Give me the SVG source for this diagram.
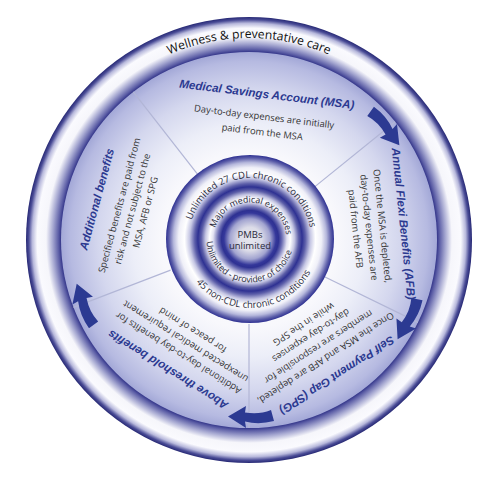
<svg xmlns="http://www.w3.org/2000/svg" width="500" height="480" viewBox="0 0 500 480">
<defs>
<radialGradient id="gRing" gradientUnits="userSpaceOnUse" cx="249" cy="240" r="223">
<stop offset="0.843" stop-color="#34368a"/>
<stop offset="0.855" stop-color="#5c5ea6"/>
<stop offset="0.88" stop-color="#a4a6d0"/>
<stop offset="0.91" stop-color="#f6f6fb"/>
<stop offset="0.95" stop-color="#fafafe"/>
<stop offset="0.972" stop-color="#b8b9dc"/>
<stop offset="0.988" stop-color="#4a4c96"/>
<stop offset="1" stop-color="#262874"/>
</radialGradient>
<radialGradient id="gSec" gradientUnits="userSpaceOnUse" cx="249" cy="240" r="188">
<stop offset="0" stop-color="#ffffff"/>
<stop offset="0.47" stop-color="#f8f8fc"/>
<stop offset="0.62" stop-color="#eceef8"/>
<stop offset="0.8" stop-color="#d4d7ee"/>
<stop offset="0.95" stop-color="#b6bae1"/>
<stop offset="1" stop-color="#a3a8d7"/>
</radialGradient>
<radialGradient id="gCore" gradientUnits="userSpaceOnUse" cx="250" cy="239" r="84">
<stop offset="0" stop-color="#e6e6ee"/>
<stop offset="0.14" stop-color="#dcdce8"/>
<stop offset="0.24" stop-color="#a2a4d0"/>
<stop offset="0.31" stop-color="#34379a"/>
<stop offset="0.34" stop-color="#2e3192"/>
<stop offset="0.38" stop-color="#6a6cb2"/>
<stop offset="0.44" stop-color="#e2e2f2"/>
<stop offset="0.48" stop-color="#ffffff"/>
<stop offset="0.53" stop-color="#c4c5e2"/>
<stop offset="0.58" stop-color="#5d5fa8"/>
<stop offset="0.62" stop-color="#2e3192"/>
<stop offset="0.66" stop-color="#5e60aa"/>
<stop offset="0.72" stop-color="#c6c7e4"/>
<stop offset="0.78" stop-color="#ffffff"/>
<stop offset="0.85" stop-color="#f0f0f8"/>
<stop offset="0.91" stop-color="#b6b8dc"/>
<stop offset="0.965" stop-color="#5a5ca8"/>
<stop offset="1" stop-color="#2e3192"/>
</radialGradient>
<path id="pWell" d="M 47,240 A 202 202 0 0 1 451,240"/>
<path id="pTopOuter" d="M 250,300 A 61 61 0 1 1 250,178 A 61 61 0 1 1 250,300"/>
<path id="pBotOuter" d="M 250,170 A 69 69 0 1 0 250,308 A 69 69 0 1 0 250,170"/>
<path id="pTopMid" d="M 250,275.5 A 36.5 36.5 0 1 1 250,202.5 A 36.5 36.5 0 1 1 250,275.5"/>
<path id="pBotMid" d="M 250,195.5 A 43.5 43.5 0 1 0 250,282.5 A 43.5 43.5 0 1 0 250,195.5"/>
<path id="arrowShape" d="M -25,-4 Q -10,-8 4,-4.5 L 3,-11 L 21,0.5 L 3,11 L 4,4.5 Q -10,2 -22,7 Z"/>
</defs>
<style>
.title{font-family:"Liberation Sans",Arial,sans-serif;font-weight:bold;font-style:italic;font-size:11.6px;fill:#2b3990;text-anchor:middle}
.body{font-family:"Open Sans","Noto Sans",sans-serif;font-size:9.4px;fill:#333333;text-anchor:middle}
.ctr{font-family:"Open Sans","Noto Sans",sans-serif;font-size:9.5px;fill:#2a2a3a;text-anchor:middle}
.mid{font-size:8.8px}
.well{font-family:"Open Sans","Noto Sans",sans-serif;font-size:12.2px;fill:#111111;text-anchor:middle}
.arrow{fill:#2c3a92}
.div{stroke:#b2b6d6;stroke-width:1.2}
</style>
<rect width="500" height="480" fill="#ffffff"/>
<g id="ring">
<circle cx="249" cy="240" r="223" fill="url(#gRing)"/>
<text class="well"><textPath href="#pWell" startOffset="50%">Wellness &amp; preventative care</textPath></text>
</g>
<g id="sectors">
<circle cx="249" cy="240" r="188" fill="url(#gSec)"/>
<line class="div" x1="249" y1="156" x2="249" y2="52" transform="rotate(-38 249 240)"/>
<line class="div" x1="249" y1="156" x2="249" y2="52" transform="rotate(51 249 240)"/>
<line class="div" x1="249" y1="156" x2="249" y2="52" transform="rotate(116 249 240)"/>
<line class="div" x1="249" y1="156" x2="249" y2="52" transform="rotate(180 249 240)"/>
<line class="div" x1="249" y1="156" x2="249" y2="52" transform="rotate(249 249 240)"/>
</g>
<g id="msa" transform="rotate(7 249 240)">
<text class="title" x="249" y="97.2">Medical Savings Account (MSA)</text>
<text class="body" x="249" y="119">Day-to-day expenses are initially</text>
<text class="body" x="249" y="134.5">paid from the MSA</text>
</g>
<g id="afb" transform="rotate(84 249 240)">
<text class="title" x="249" y="88.5">Annual Flexi Benefits (AFB)</text>
<text class="body" x="249" y="109">Once the MSA is depleted,</text>
<text class="body" x="249" y="122.5">day-to-day expenses are</text>
<text class="body" x="249" y="136">paid from the AFB</text>
</g>
<g id="spg" transform="rotate(147 249 240)">
<text class="title" x="249" y="82.5">Self Payment Gap (SPG)</text>
<text class="body" x="249" y="102.4">Once the MSA and AFB are depleted,</text>
<text class="body" x="249" y="115.9">members are responsible for</text>
<text class="body" x="249" y="129.4">day-to-day expenses</text>
<text class="body" x="249" y="142.9">while in the SPG</text>
</g>
<g id="above" transform="rotate(212 249 240)">
<text class="title" x="249" y="91">Above threshold benefits</text>
<text class="body" x="249" y="110">Additional day-to-day benefits for</text>
<text class="body" x="249" y="123.5">unexpected medical requirement</text>
<text class="body" x="249" y="137">for peace of mind</text>
</g>
<g id="additional" transform="rotate(-75 249 240)">
<text class="title" x="249" y="86.4">Additional benefits</text>
<text class="body" x="249" y="109">Specified benefits are paid from</text>
<text class="body" x="249" y="122.5">risk and not subject to the</text>
<text class="body" x="249" y="136">MSA, AFB or SPG</text>
</g>
<g id="connectors">
<use href="#arrowShape" class="arrow" transform="rotate(51 249 240) translate(249 63)"/>
<use href="#arrowShape" class="arrow" transform="rotate(117 249 240) translate(249 62)"/>
<use href="#arrowShape" class="arrow" transform="rotate(180 249 240) translate(249 63)"/>
<use href="#arrowShape" class="arrow" transform="rotate(249 249 240) translate(249 63)"/>
</g>
<g id="center">
<circle cx="250" cy="239" r="84" fill="url(#gCore)"/>
<text class="ctr"><textPath href="#pTopOuter" startOffset="51%">Unlimited 27 CDL chronic conditions</textPath></text>
<text class="ctr"><textPath href="#pBotOuter" startOffset="51.4%">45 non-CDL chronic conditions</textPath></text>
<text class="ctr mid"><textPath href="#pTopMid" startOffset="51.5%">Major medical expenses</textPath></text>
<text class="ctr mid"><textPath href="#pBotMid" startOffset="48.2%">Unlimited - provider of choice</textPath></text>
<text class="ctr" x="250" y="238" font-size="8.5">PMBs</text>
<text class="ctr" x="250" y="248.5" font-size="8.5">unlimited</text>
</g>
</svg>
